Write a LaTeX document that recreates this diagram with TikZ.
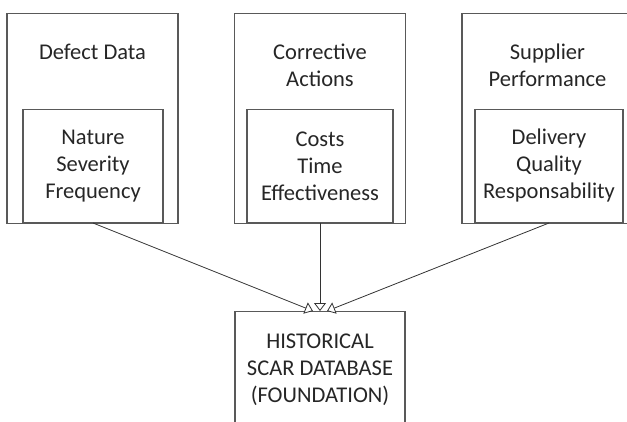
\documentclass[tikz,border=0pt]{standalone}
\usepackage{fontspec}
\setmainfont{Carlito}
\usetikzlibrary{arrows.meta}
\begin{document}
\begin{tikzpicture}[
        x=1pt, y=-1pt,
        every node/.style={font=\fontsize{22.5}{27}\selectfont, text=black!85},
        outer box/.style={rectangle, draw=black!65, line width=1.1pt, minimum width=171pt, minimum height=210pt, anchor=north, inner sep=0pt},
        inner box/.style={rectangle, draw=black!65, line width=1.1pt, minimum height=113pt, anchor=south, align=center, inner sep=0pt},
        title/.style={anchor=north, align=center, inner sep=0pt},
        base box/.style={rectangle, draw=black!65, line width=1.1pt, minimum width=170pt, minimum height=116pt, anchor=north, align=center, inner sep=0pt},
        feed/.style={draw, black!80, line width=0.8pt, -{Triangle[open, length=8pt, width=12pt, fill=white]}},
    ]
	\useasboundingbox (0,0) rectangle (627,421);
	\clip (0,0) rectangle (627,421);
	\node[outer box] (defect) at (92.5,13) {};
	\node[outer box] (action) at (320,13) {};
	\node[outer box] (supplier) at (547.5,13) {};
	\node[title] (defect_t) at (92.5,44) {Defect Data};
	\node[title] (action_t) at (320,44) {Corrective\\Actions};
	\node[title] (supplier_t) at (547.5,44) {Supplier\\Performance};
	\node[inner box, minimum width=140pt] (nature) at (93,223) {Nature\\Severity\\Frequency};
	\node[inner box, minimum width=146pt] (costs) at (320,223) {Costs\\Time\\Effectiveness};
	\node[inner box, minimum width=148pt] (delivery) at (549,223) {Delivery\\Quality\\Responsability};
	\node[base box] (scar) at (320,311) {HISTORICAL\\SCAR DATABASE\\(FOUNDATION)};
	\draw[feed] (nature.south) -- ([xshift=-7pt]scar.north);
	\draw[feed] (costs.south) -- (scar.north);
	\draw[feed] (delivery.south) -- ([xshift=7pt]scar.north);
\end{tikzpicture}
\end{document}
